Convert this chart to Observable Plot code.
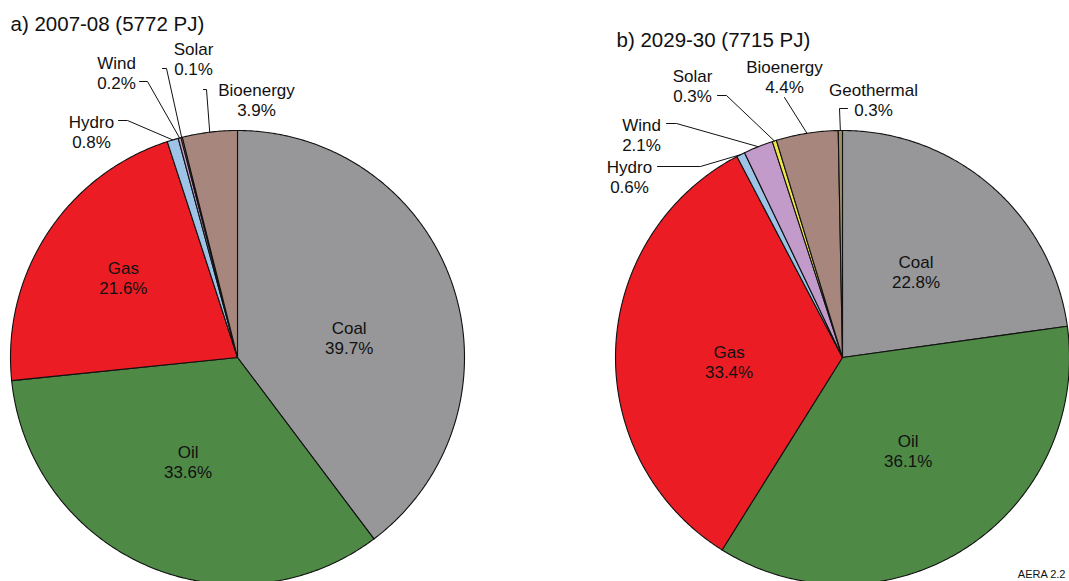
<!DOCTYPE html>
<html><head><meta charset="utf-8">
<script src="https://cdn.jsdelivr.net/npm/d3@7"></script>
<script src="https://cdn.jsdelivr.net/npm/@observablehq/plot@0.6"></script>
<style>html,body{margin:0;padding:0;background:#fff;overflow:hidden;} #chart svg{display:block;}</style>
</head><body><div id="chart"></div>
<script>
// ---- data ----
const titles = ["a) 2007-08 (5772 PJ)", "b) 2029-30 (7715 PJ)"];
const categoriesA = ["Coal", "Oil", "Gas", "Hydro", "Wind", "Solar", "Bioenergy"];
const valuesA = [39.7, 33.6, 21.6, 0.8, 0.2, 0.1, 3.9];
const categoriesB = ["Coal", "Oil", "Gas", "Hydro", "Wind", "Solar", "Bioenergy", "Geothermal"];
const valuesB = [22.8, 36.1, 33.4, 0.6, 2.1, 0.3, 4.4, 0.3];
const sourceNote = "AERA 2.2";
const colorDomain = ["Coal", "Oil", "Gas", "Hydro", "Wind", "Solar", "Bioenergy", "Geothermal"];
const colorRange = ["#979799", "#4e8a46", "#ec1c24", "#9dc3e6", "#c39bcb", "#f0e84a", "#a7877d", "#9a8f68"];

// ---- layout ----
const W = 1069, H = 581;
const FONT = "Liberation Sans, Arial, Helvetica, sans-serif";
const pies = [
  {cats: categoriesA, vals: valuesA, cx: 237, cy: 357, r: 227, title: titles[0], tx: 10, ty: 24,
   inside: ["Coal", "Oil", "Gas"],
   shift: {Coal: [4, 16], Oil: [-4, 0], Gas: [-19, -18]},
   outside: {
     Hydro: {t: [91, 131], elbow: [[118, 120], [127, 120]]},
     Wind: {t: [116, 72], elbow: [[139, 81], [147, 81]]},
     Solar: {t: [193, 58], elbow: [[162, 68], [166, 68]]},
     Bioenergy: {t: [256, 99], elbow: [[203, 89], [206, 89]]}
   }},
  {cats: categoriesB, vals: valuesB, cx: 842, cy: 357, r: 227, title: titles[1], tx: 616, ty: 40,
   inside: ["Coal", "Oil", "Gas"],
   shift: {Coal: [-1, 0], Oil: [4, -2], Gas: [0, 8]},
   outside: {
     Hydro: {t: [629, 176], elbow: [[657, 166], [700, 166]]},
     Wind: {t: [641, 134], elbow: [[666, 123], [676, 123]]},
     Solar: {t: [692, 85], elbow: [[717, 95], [726, 95]]},
     Bioenergy: {t: [784, 76], elbow: [[784, 97]]},
     Geothermal: {t: [873, 99], elbow: [[847, 108], [839, 108]]}
   }}
];

const color = name => colorRange[colorDomain.indexOf(name)];
const marks = [];
const texts = [];
const leaders = [];

pies.forEach((p, pi) => {
  const rows = p.cats.map((c, i) => ({name: c, v: p.vals[i]}));
  const arcs = d3.pie().sort(null).value(d => d.v)(rows);
  const px = a => p.cx + p.r * Math.sin(a);
  const py = a => p.cy - p.r * Math.cos(a);
  arcs.forEach(a => {
    const n = Math.max(2, Math.ceil((a.endAngle - a.startAngle) / (Math.PI / 360)));
    const pts = [{x: p.cx, y: p.cy}];
    for (let k = 0; k <= n; k++) {
      const t = a.startAngle + (a.endAngle - a.startAngle) * k / n;
      pts.push({x: px(t), y: py(t)});
    }
    pts.push({x: p.cx, y: p.cy});
    marks.push(Plot.line(pts, {x: "x", y: "y", fill: color(a.data.name), stroke: "#111", strokeWidth: 1.1, strokeLinejoin: "round"}));
    const mid = (a.startAngle + a.endAngle) / 2;
    const label = a.data.name + "\n" + a.data.v.toFixed(1) + "%";
    if (p.inside.includes(a.data.name)) {
      const s = p.shift[a.data.name] || [0, 0];
      texts.push({x: p.cx + 0.5 * p.r * Math.sin(mid) + s[0], y: p.cy - 0.5 * p.r * Math.cos(mid) + s[1], text: label});
    } else if (p.outside[a.data.name]) {
      const o = p.outside[a.data.name];
      texts.push({x: o.t[0], y: o.t[1], text: label});
      const key = pi + "-" + a.data.name;
      o.elbow.forEach(e => leaders.push({x: e[0], y: e[1], key}));
      leaders.push({x: px(mid), y: py(mid), key});
    }
  });
});

const titleRows = pies.map(p => ({x: p.tx, y: p.ty, text: p.title}));

const chart = Plot.plot({
  width: W, height: H,
  margin: 0,
  x: {domain: [0, W], range: [0, W], axis: null},
  y: {domain: [0, H], range: [0, H], axis: null},
  style: {background: "#fff"},
  marks: [
    ...marks,
    Plot.line(leaders, {x: "x", y: "y", z: "key", stroke: "#111", strokeWidth: 1}),
    Plot.text(texts, {x: "x", y: "y", text: "text", fontSize: 17, fontFamily: FONT, lineHeight: 1.18, fill: "#111"}),
    Plot.text(titleRows, {x: "x", y: "y", text: "text", fontSize: 20.5, fontFamily: FONT, textAnchor: "start", fill: "#111"}),
    Plot.text([{x: 1065, y: 574, text: sourceNote}], {x: "x", y: "y", text: "text", fontSize: 11, fontFamily: FONT, textAnchor: "end", fill: "#111"})
  ]
});
document.getElementById("chart").appendChild(chart);
</script>
</body></html>
